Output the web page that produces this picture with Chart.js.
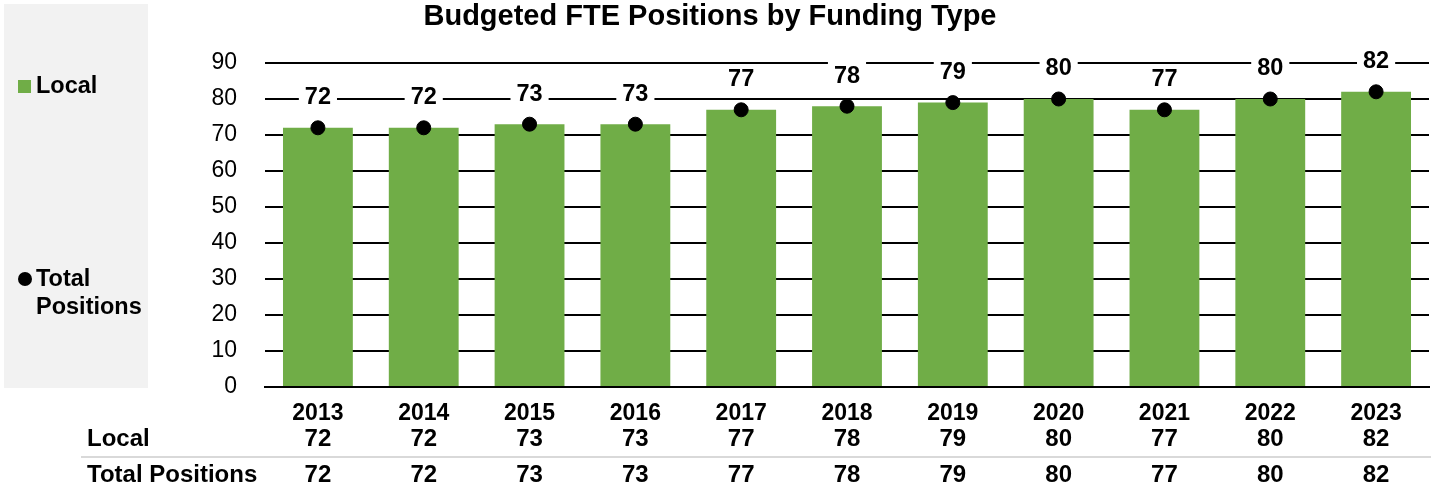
<!DOCTYPE html>
<html>
<head>
<meta charset="utf-8">
<script src="https://cdn.jsdelivr.net/npm/chart.js@4.4.1/dist/chart.umd.min.js"></script>
<style>
  html, body { margin: 0; padding: 0; background: #fff; }
  #wrap { width: 1437px; height: 488px; }
</style>
</head>
<body>
<div id="wrap"><canvas id="chart" width="1437" height="488"></canvas></div>
<script>
const years = ['2013', '2014', '2015', '2016', '2017', '2018', '2019', '2020', '2021', '2022', '2023'];
const local = [72, 72, 73, 73, 77, 78, 79, 80, 77, 80, 82];
const totalPositions = [72, 72, 73, 73, 77, 78, 79, 80, 77, 80, 82];
const yTicks = [0, 10, 20, 30, 40, 50, 60, 70, 80, 90];

const FONT = '"Liberation Sans", Arial, sans-serif';
const GREEN = '#70AD47';

// grey legend box on the left + title
const legendPanel = {
  id: 'legendPanel',
  beforeDraw(chart) {
    const ctx = chart.ctx;
    ctx.save();
    ctx.fillStyle = '#F2F2F2';
    ctx.fillRect(4, 4, 144, 384);
    ctx.fillStyle = GREEN;
    ctx.fillRect(18, 80, 13, 13);
    ctx.fillStyle = '#000';
    ctx.beginPath();
    ctx.arc(25, 279, 7, 0, Math.PI * 2);
    ctx.fill();
    ctx.font = 'bold 23.5px ' + FONT;
    ctx.textBaseline = 'middle';
    ctx.textAlign = 'left';
    ctx.fillText('Local', 36, 87);
    ctx.fillText('Total', 36, 280);
    ctx.fillText('Positions', 36, 308);
    ctx.font = 'bold 29px ' + FONT;
    ctx.textAlign = 'center';
    ctx.fillText('Budgeted FTE Positions by Funding Type', 710, 17);
    ctx.restore();
  }
};

// value labels over the dots, plus the data table under the axis
const labelsAndTable = {
  id: 'labelsAndTable',
  afterDatasetsDraw(chart) {
    const ctx = chart.ctx;
    const x = chart.scales.x;
    const y = chart.scales.y;
    ctx.save();
    ctx.font = 'bold 23.5px ' + FONT;
    ctx.textAlign = 'center';
    ctx.textBaseline = 'middle';
    totalPositions.forEach((v, i) => {
      const px = x.getPixelForValue(i);
      const py = y.getPixelForValue(v) - 31;
      const w = ctx.measureText(String(v)).width + 12;
      ctx.fillStyle = '#fff';
      ctx.fillRect(px - w / 2, py - 14, w, 28);
      ctx.fillStyle = '#000';
      ctx.fillText(String(v), px, py + 1);
    });

    ctx.font = 'bold 24px ' + FONT;
    ctx.textAlign = 'left';
    ctx.fillText('Local', 87, 439);
    ctx.fillText('Total Positions', 87, 475);
    ctx.textAlign = 'center';
    years.forEach((yr, i) => {
      const px = x.getPixelForValue(i);
      ctx.fillText(String(local[i]), px, 439);
      ctx.fillText(String(totalPositions[i]), px, 475);
    });
    ctx.strokeStyle = '#D9D9D9';
    ctx.lineWidth = 2;
    ctx.beginPath();
    ctx.moveTo(81, 457);
    ctx.lineTo(1431, 457);
    ctx.stroke();
    ctx.restore();
  }
};

new Chart(document.getElementById('chart'), {
  data: {
    labels: years,
    datasets: [
      {
        type: 'line',
        label: 'Total Positions',
        data: totalPositions,
        showLine: false,
        pointRadius: 7,
        pointHoverRadius: 7,
        pointBackgroundColor: '#000',
        pointBorderColor: '#000',
        order: 0
      },
      {
        type: 'bar',
        label: 'Local',
        data: local,
        backgroundColor: GREEN,
        categoryPercentage: 1,
        barPercentage: 0.66,
        order: 1
      }
    ]
  },
  options: {
    responsive: false,
    animation: false,
    layout: { padding: { top: 63, left: 148, right: 5, bottom: 0 } },
    plugins: {
      legend: { display: false },
      title: { display: false },
      tooltip: { enabled: false }
    },
    scales: {
      x: {
        grid: { display: false },
        border: { color: '#000', width: 2 },
        ticks: {
          color: '#000',
          font: { family: FONT, size: 23, weight: 'bold' },
          padding: 5
        },
        afterFit(scale) { scale.height = 101; }
      },
      y: {
        min: 0,
        max: 90,
        afterBuildTicks(scale) { scale.ticks = yTicks.map(v => ({ value: v })); },
        grid: { color: '#000', lineWidth: 2, drawTicks: false },
        border: { display: false },
        ticks: {
          color: '#000',
          font: { family: FONT, size: 23 },
          padding: 28
        },
        afterFit(scale) { scale.width = 117; }
      }
    }
  },
  plugins: [legendPanel, labelsAndTable]
});
</script>
</body>
</html>
